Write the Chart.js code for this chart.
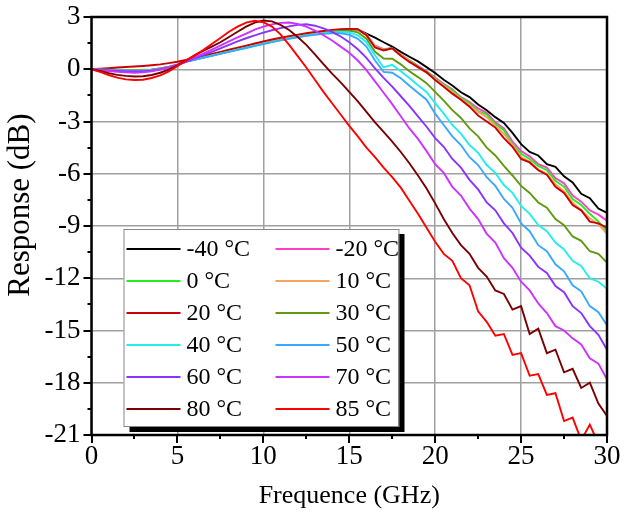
<!DOCTYPE html>
<html>
<head>
<meta charset="utf-8">
<script src="https://cdn.jsdelivr.net/npm/chart.js@4.4.0/dist/chart.umd.min.js"></script>
<style>
  html, body { margin: 0; padding: 0; background: #fff; }
  #wrap { width: 624px; height: 514px; }
</style>
</head>
<body>
<div id="wrap"><canvas id="responseChart" width="624" height="514"></canvas></div>
<script>
// frequency axis (GHz), one point every 0.5 GHz
var freqGHz = [
  0, 0.5, 1, 1.5, 2, 2.5, 3, 3.5, 4, 4.5,
  5, 5.5, 6, 6.5, 7, 7.5, 8, 8.5, 9, 9.5,
  10, 10.5, 11, 11.5, 12, 12.5, 13, 13.5, 14, 14.5,
  15, 15.5, 16, 16.5, 17, 17.5, 18, 18.5, 19, 19.5,
  20, 20.5, 21, 21.5, 22, 22.5, 23, 23.5, 24, 24.5,
  25, 25.5, 26, 26.5, 27, 27.5, 28, 28.5, 29, 29.5,
  30
];

var tempLabels = ['-40 °C', '-20 °C', '0 °C', '10 °C', '20 °C', '30 °C',
                  '40 °C', '50 °C', '60 °C', '70 °C', '80 °C', '85 °C'];

var xTicks = [0, 5, 10, 15, 20, 25, 30];
var yTicks = [3, 0, -3, -6, -9, -12, -15, -18, -21];
var xTitle = 'Frequence (GHz)';
var yTitle = 'Response (dB)';

// response in dB
var resp_m40 = [
  0, -0.01, -0.03, -0.04, -0.05, -0.05, -0.04, -0.02, 0.04, 0.13,
  0.27, 0.45, 0.57, 0.68, 0.8, 0.92, 1.03, 1.15, 1.26, 1.38,
  1.49, 1.6, 1.71, 1.8, 1.89, 1.98, 2.06, 2.13, 2.19, 2.25,
  2.29, 2.27, 2.05, 1.82, 1.55, 1.3, 1.0, 0.72, 0.45, 0.12,
  -0.22, -0.6, -0.93, -1.32, -1.6, -2.02, -2.35, -2.75, -3.08, -3.65,
  -4.3, -4.75, -4.95, -5.45, -5.6, -6.15, -6.5, -7.15, -7.4, -8.0,
  -8.25
];
var resp_m20 = [
  0, -0.01, -0.03, -0.04, -0.05, -0.05, -0.04, -0.02, 0.04, 0.13,
  0.27, 0.45, 0.57, 0.69, 0.81, 0.93, 1.04, 1.16, 1.27, 1.39,
  1.5, 1.61, 1.72, 1.81, 1.9, 1.99, 2.07, 2.14, 2.2, 2.26,
  2.3, 2.28, 2.0, 1.35, 1.15, 1.22, 0.85, 0.52, 0.2, -0.12,
  -0.48, -0.85, -1.15, -1.6, -1.88, -2.25, -2.5, -3.05, -3.4, -4.15,
  -4.7, -5.0, -5.45, -5.65, -6.25, -6.55, -7.25, -7.6, -8.1, -8.35,
  -8.7
];
var resp_0 = [
  0, -0.01, -0.03, -0.05, -0.06, -0.06, -0.05, -0.03, 0.03, 0.12,
  0.27, 0.45, 0.57, 0.68, 0.8, 0.92, 1.03, 1.15, 1.26, 1.38,
  1.49, 1.6, 1.71, 1.8, 1.89, 1.98, 2.06, 2.13, 2.19, 2.25,
  2.28, 2.26, 1.97, 1.3, 1.12, 1.2, 0.82, 0.5, 0.15, -0.15,
  -0.52, -0.9, -1.2, -1.65, -1.95, -2.4, -2.6, -3.15, -3.5, -4.3,
  -4.85, -5.15, -5.55, -5.8, -6.4, -6.75, -7.45, -7.8, -8.3, -8.75,
  -9.3
];
var resp_10 = [
  0, -0.01, -0.02, -0.03, -0.04, -0.04, -0.03, -0.01, 0.05, 0.14,
  0.28, 0.45, 0.58, 0.7, 0.82, 0.94, 1.05, 1.17, 1.28, 1.4,
  1.51, 1.62, 1.73, 1.82, 1.91, 2.0, 2.08, 2.15, 2.21, 2.26,
  2.29, 2.27, 1.98, 1.32, 1.1, 1.18, 0.8, 0.46, 0.12, -0.2,
  -0.58, -0.95, -1.3, -1.72, -2.05, -2.45, -2.75, -3.25, -3.7, -4.35,
  -5.05, -5.3, -5.75, -6.0, -6.6, -7.0, -7.65, -8.1, -8.55, -8.9,
  -9.45
];
var resp_20 = [
  0, 0.03, 0.06, 0.1, 0.13, 0.16, 0.19, 0.23, 0.28, 0.35,
  0.43, 0.53, 0.64, 0.76, 0.88, 1.0, 1.12, 1.24, 1.36, 1.48,
  1.6, 1.71, 1.81, 1.9, 1.99, 2.07, 2.14, 2.2, 2.26, 2.3,
  2.32, 2.3, 1.95, 1.25, 1.08, 1.2, 0.78, 0.42, 0.12, -0.18,
  -0.62, -1.0, -1.4, -1.75, -2.15, -2.65, -3.0, -3.35, -3.95, -4.45,
  -5.15, -5.35, -5.8, -6.05, -6.75, -7.1, -7.8, -8.1, -8.75, -8.85,
  -9.1
];
var resp_30 = [
  0, -0.01, -0.03, -0.05, -0.06, -0.06, -0.05, -0.03, 0.03, 0.12,
  0.26, 0.44, 0.56, 0.67, 0.79, 0.91, 1.02, 1.13, 1.24, 1.36,
  1.47, 1.58, 1.68, 1.77, 1.86, 1.95, 2.02, 2.09, 2.15, 2.2,
  2.22, 2.12, 1.75, 1.0, 0.62, 0.6, 0.28, -0.12, -0.45, -0.8,
  -1.3, -1.8, -2.35, -2.8, -3.4, -3.85, -4.5, -4.95, -5.55, -6.1,
  -6.7, -7.1, -7.65, -7.95, -8.6, -8.95, -9.6, -9.85, -10.45, -10.6,
  -11.1
];
var resp_40 = [
  0, -0.02, -0.04, -0.06, -0.08, -0.08, -0.07, -0.04, 0.02, 0.11,
  0.25, 0.44, 0.55, 0.66, 0.78, 0.9, 1.01, 1.12, 1.23, 1.35,
  1.46, 1.57, 1.67, 1.77, 1.86, 1.94, 2.01, 2.07, 2.12, 2.14,
  2.12, 1.95, 1.55, 0.8, 0.1, 0.25, -0.12, -0.5, -0.92, -1.3,
  -1.95, -2.55, -3.2, -3.7, -4.35, -4.8, -5.5, -5.95, -6.65, -7.1,
  -7.85, -8.3, -8.95, -9.3, -9.95, -10.35, -11.0, -11.3, -12.0, -12.2,
  -12.6
];
var resp_50 = [
  0, -0.02, -0.05, -0.07, -0.09, -0.1, -0.09, -0.06, 0.01, 0.1,
  0.25, 0.43, 0.54, 0.65, 0.77, 0.89, 1.0, 1.11, 1.22, 1.34,
  1.45, 1.56, 1.66, 1.75, 1.84, 1.92, 1.98, 2.03, 2.07, 2.06,
  1.98, 1.75, 1.3, 0.5, -0.15, -0.2, -0.52, -0.95, -1.35, -1.75,
  -2.55, -3.2, -3.85, -4.35, -5.05, -5.5, -6.2, -6.7, -7.45, -7.95,
  -8.85, -9.3, -10.1, -10.45, -11.2, -11.6, -12.4, -12.75, -13.6, -13.95,
  -14.7
];
var resp_60 = [
  0, -0.03, -0.07, -0.1, -0.12, -0.13, -0.12, -0.08, 0.0, 0.1,
  0.25, 0.43, 0.62, 0.8, 1.0, 1.2, 1.4, 1.6, 1.78, 1.95,
  2.1, 2.24, 2.36, 2.46, 2.55, 2.58, 2.5, 2.35, 2.15, 1.88,
  1.55, 1.15, 0.65, 0.05, -0.5, -1.0, -1.55, -2.1, -2.7, -3.3,
  -3.95, -4.45, -5.15, -5.65, -6.35, -6.9, -7.65, -8.1, -8.85, -9.4,
  -10.25, -10.7, -11.35, -11.7, -12.45, -12.8, -13.6, -14.0, -14.75, -15.25,
  -16.1
];
var resp_70 = [
  0, -0.05, -0.1, -0.15, -0.18, -0.2, -0.18, -0.12, -0.02, 0.1,
  0.26, 0.46, 0.68, 0.9, 1.13, 1.36, 1.6, 1.83, 2.05, 2.27,
  2.45, 2.58, 2.66, 2.68, 2.6, 2.45, 2.22, 1.95, 1.65, 1.3,
  0.95, 0.5, -0.05, -0.7, -1.35, -2.0, -2.7, -3.4, -4.0, -4.7,
  -5.45, -5.95, -6.75, -7.25, -8.0, -8.6, -9.45, -9.95, -10.85, -11.4,
  -12.2, -12.7, -13.45, -14.0, -14.75, -15.0, -15.45, -15.8, -16.6, -16.9,
  -17.8
];
var resp_80 = [
  0, -0.1, -0.22, -0.32, -0.38, -0.42, -0.4, -0.33, -0.2, -0.02,
  0.22, 0.5, 0.8, 1.05, 1.3, 1.55, 1.85, 2.15, 2.45, 2.68,
  2.8, 2.75, 2.55, 2.25, 1.85, 1.4, 0.85, 0.3, -0.25, -0.75,
  -1.3, -1.85, -2.45, -3.05, -3.6, -4.15, -4.75, -5.4, -6.1, -6.85,
  -7.7, -8.6, -9.4, -10.1, -10.6, -11.4, -11.9, -12.7, -12.9, -13.8,
  -13.6, -15.2, -14.9, -16.3, -16.1, -17.4, -17.2, -18.3, -18.0, -19.2,
  -19.9
];
var resp_85 = [
  0, -0.15, -0.33, -0.48, -0.58, -0.62, -0.6, -0.5, -0.35, -0.12,
  0.18, 0.5, 0.8, 1.1, 1.45, 1.8, 2.15, 2.45, 2.68, 2.78,
  2.7, 2.45, 2.0, 1.4, 0.75, 0.1, -0.6, -1.3, -1.95, -2.6,
  -3.25, -3.85, -4.5, -5.05, -5.65, -6.2, -6.8, -7.55, -8.3, -9.1,
  -9.9, -10.6, -11.0, -12.0, -12.4, -13.9, -14.5, -15.3, -15.2, -16.4,
  -16.3, -17.6, -17.5, -18.7, -18.6, -20.2, -20.0, -21.3, -20.4, -21.5,
  -21.6
];

var allSeries = [resp_m40, resp_m20, resp_0, resp_10, resp_20, resp_30,
                 resp_40, resp_50, resp_60, resp_70, resp_80, resp_85];
var seriesColors = ['#000000', '#ff3fc8', '#22ee22', '#f4a460', '#cc0000', '#5f9a10',
                    '#22eeee', '#3aa8ff', '#8a33ff', '#cc33ff', '#7a0000', '#ff0000'];

var serif = "'Liberation Serif', 'Times New Roman', serif";

var datasets = allSeries.map(function (vals, i) {
  return {
    label: tempLabels[i],
    data: vals.map(function (v, k) { return { x: freqGHz[k], y: v }; }),
    borderColor: seriesColors[i],
    backgroundColor: seriesColors[i],
    borderWidth: 1.9,
    pointRadius: 0,
    tension: 0,
    order: allSeries.length - i
  };
});

// ticks (major + minor), black frame round the plot, and the y title
var frameTicks = {
  id: 'frameTicks',
  afterDatasetsDraw: function (chart) {
    var ctx = chart.ctx, ca = chart.chartArea;
    var xs = chart.scales.x, ys = chart.scales.y;
    ctx.save();
    ctx.strokeStyle = '#000';
    ctx.lineWidth = 2;
    ctx.beginPath();
    for (var v = 0; v <= 30; v += 2.5) {
      var px = Math.round(xs.getPixelForValue(v));
      ctx.moveTo(px, ca.bottom);
      ctx.lineTo(px, ca.bottom + (v % 5 === 0 ? 8 : 4));
    }
    for (var w = -21; w <= 3; w += 1.5) {
      var py = Math.round(ys.getPixelForValue(w));
      ctx.moveTo(ca.left, py);
      ctx.lineTo(ca.left - (w % 3 === 0 ? 8 : 4), py);
    }
    ctx.stroke();
    ctx.lineWidth = 2.5;
    ctx.strokeRect(ca.left, ca.top, ca.right - ca.left, ca.bottom - ca.top);

    // y title sits a little above the middle of the axis in the original
    ctx.translate(21, ca.top + (ca.bottom - ca.top) * 0.45);
    ctx.rotate(-Math.PI / 2);
    ctx.fillStyle = '#000';
    ctx.font = '31px ' + serif;
    ctx.textAlign = 'center';
    ctx.textBaseline = 'middle';
    ctx.fillText(yTitle, 0, 0);
    ctx.restore();
  }
};

// two-column legend box with a drop shadow, inside the plot
var boxLegend = {
  id: 'boxLegend',
  afterDraw: function (chart) {
    var ctx = chart.ctx, ca = chart.chartArea;
    var x0 = ca.left + 32, y0 = ca.top + 212, w = 275, h = 197;
    ctx.save();
    ctx.fillStyle = '#000';
    ctx.fillRect(x0 + 6, y0 + 5, w, h + 1);
    ctx.fillStyle = '#fff';
    ctx.fillRect(x0, y0, w, h);
    ctx.strokeStyle = '#888';
    ctx.lineWidth = 1;
    ctx.strokeRect(x0 + 0.5, y0 + 0.5, w, h);
    ctx.font = '24px ' + serif;
    ctx.textBaseline = 'middle';
    ctx.textAlign = 'left';
    chart.data.datasets.forEach(function (ds, i) {
      var col = i % 2, row = Math.floor(i / 2);
      var lx = x0 + (col === 0 ? 3 : 152);
      var cy = y0 + 20 + row * 32;
      ctx.strokeStyle = ds.borderColor;
      ctx.lineWidth = 2;
      ctx.beginPath();
      ctx.moveTo(lx, cy);
      ctx.lineTo(lx + 54, cy);
      ctx.stroke();
      ctx.fillStyle = '#000';
      ctx.fillText(ds.label, lx + 60, cy + 1);
    });
    ctx.restore();
  }
};

var ctx = document.getElementById('responseChart').getContext('2d');
var chart = new Chart(ctx, {
  type: 'line',
  data: { datasets: datasets },
  options: {
    responsive: false,
    devicePixelRatio: 1,
    animation: false,
    layout: { padding: { top: 17, right: 17, left: 0, bottom: 0 } },
    plugins: {
      legend: { display: false },
      tooltip: { enabled: false }
    },
    scales: {
      x: {
        type: 'linear',
        min: 0,
        max: 30,
        afterFit: function (scale) {
          scale.height = 79;
          scale.paddingLeft = 0;
          scale.paddingRight = 0;
        },
        afterBuildTicks: function (scale) {
          scale.ticks = xTicks.map(function (v) { return { value: v }; });
        },
        ticks: { color: '#000', font: { family: serif, size: 27 }, padding: 6, maxRotation: 0 },
        grid: { color: '#a0a0a0', lineWidth: 1.5, drawTicks: false },
        border: { display: false },
        title: { display: true, text: xTitle, color: '#000', font: { family: serif, size: 26 }, padding: { top: 0, bottom: 2 } }
      },
      y: {
        type: 'linear',
        min: -21,
        max: 3,
        afterFit: function (scale) {
          scale.width = 91.5;
          scale.paddingTop = 0;
          scale.paddingBottom = 0;
        },
        afterBuildTicks: function (scale) {
          scale.ticks = yTicks.map(function (v) { return { value: v }; });
        },
        ticks: { color: '#000', font: { family: serif, size: 27 }, padding: 11 },
        grid: { color: '#a0a0a0', lineWidth: 1.5, drawTicks: false },
        border: { display: false },
        title: { display: false }
      }
    }
  },
  plugins: [frameTicks, boxLegend]
});
</script>
</body>
</html>
